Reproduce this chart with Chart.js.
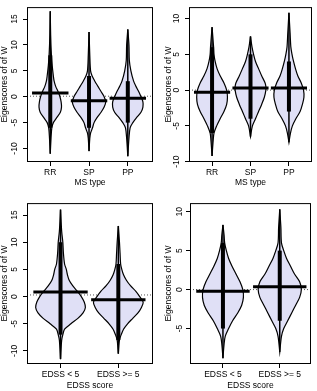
<!DOCTYPE html>
<html>
<head>
<meta charset="utf-8">
<script src="https://cdn.jsdelivr.net/npm/chart.js@4.4.0/dist/chart.umd.min.js"></script>
<style>
  body { margin: 0; background: #fff; }
  canvas { position: absolute; }
</style>
</head>
<body>
<canvas id="c1" width="158" height="188" style="left:0;top:0"></canvas>
<canvas id="c2" width="153" height="188" style="left:164px;top:0"></canvas>
<canvas id="c3" width="158" height="195" style="left:0;top:196px"></canvas>
<canvas id="c4" width="153" height="195" style="left:164px;top:196px"></canvas>
<script>
// groups
const msTypes = ['RR', 'SP', 'PP'];
const edssGroups = ['EDSS < 5', 'EDSS >= 5'];

// panel 1 : MS type (left)
const p1Levels = [
  [16.5, 12, 8, 6, 4, 3, 2, 1, 0, -1, -2, -3, -4, -5, -6, -8, -11],
  [12.5, 8, 5, 4, 3, 2, 1, 0, -1, -2, -3, -4, -5, -6, -7, -8, -10.5],
  [13, 10, 7, 5, 3, 2, 1, 0, -1, -2, -3, -4, -5, -6, -8, -11.5]
];
const p1Density = [
  [0, .01, .03, .05, .08, .10, .14, .20, .25, .28, .29, .26, .17, .08, .04, .02, 0],
  [0, .02, .04, .08, .15, .23, .31, .39, .43, .39, .31, .21, .13, .09, .04, .02, 0],
  [0, .03, .04, .08, .15, .21, .28, .34, .39, .39, .34, .23, .13, .06, .03, 0]
];
const p1Means = [0.7, -0.8, -0.3];
const p1Dense = [[-6, 8], [-6, 4], [-5, 3]];
const p1Overall = 0.1;
const p1YTicks = [-10, -5, 0, 5, 10, 15];

// panel 2 : MS type (right)
const p2Levels = [
  [8.8, 6, 5, 4, 3, 2, 1, 0, -1, -2, -3, -4, -5, -6, -7, -9.2],
  [7.5, 6, 5, 4, 3, 2, 1, 0.5, 0, -1, -2, -3, -4, -5, -6.5],
  [10.8, 8, 6, 5, 4, 3, 2, 1, 0, -1, -2, -3, -4, -5, -6, -7.3]
];
const p2Density = [
  [0, .04, .05, .08, .13, .21, .31, .38, .40, .38, .31, .21, .12, .05, .03, 0],
  [0, .04, .08, .13, .21, .29, .38, .40, .40, .36, .29, .21, .13, .05, 0],
  [0, .03, .05, .08, .12, .17, .23, .32, .38, .39, .35, .29, .18, .09, .04, 0]
];
const p2Means = [-0.3, 0.3, 0.3];
const p2Dense = [[-6, 6], [-4, 5], [-3, 4]];
const p2Overall = 0.0;
const p2YTicks = [-10, -5, 0, 5, 10];

// panel 3 : EDSS score (left)
const p3Levels = [
  [16, 12, 10, 8, 6, 5, 4, 3, 2, 1, 0, -1, -2, -3, -4, -5, -6, -7, -8, -11.5],
  [13, 10, 8, 6, 5, 4, 3, 2, 1, 0, -1, -2, -3, -4, -5, -6, -7, -8, -10.5]
];
const p3Density = [
  [0, .02, .04, .05, .07, .10, .12, .15, .21, .29, .36, .41, .43, .39, .30, .18, .07, .04, .02, 0],
  [0, .02, .03, .04, .06, .09, .14, .21, .30, .37, .43, .40, .34, .25, .16, .09, .05, .02, 0]
];
const p3Means = [0.85, -0.6];
const p3Dense = [[-7, 10], [-8, 6]];
const p3Overall = 0.3;
const p3YTicks = [-10, -5, 0, 5, 10, 15];

// panel 4 : EDSS score (right)
const p4Levels = [
  [8.3, 7, 6, 5, 4, 3, 2, 1, 0, -1, -2, -3, -4, -5, -6, -7, -8.8],
  [10.3, 8, 6, 5, 4, 3, 2, 1, 0, -1, -2, -3, -4, -5, -6, -8]
];
const p4Density = [
  [0, .02, .03, .06, .10, .16, .23, .30, .35, .36, .33, .26, .17, .10, .04, .02, 0],
  [0, .02, .03, .07, .12, .19, .26, .35, .38, .35, .28, .21, .14, .07, .03, 0]
];
const p4Means = [-0.2, 0.35];
const p4Dense = [[-5, 6], [-4, 5]];
const p4Overall = 0.0;
const p4YTicks = [-5, 0, 5, 10];

const yTitle = 'Eigenscores of of W';
const violinFill = '#e0e0f6';
const font = { family: 'Liberation Sans, Arial, sans-serif', size: 8.5 };

// frame round the plot region, like R's box()
const boxPlugin = {
  id: 'box',
  afterDraw(chart) {
    const a = chart.chartArea;
    const ctx = chart.ctx;
    ctx.save();
    ctx.strokeStyle = '#000';
    ctx.lineWidth = 1;
    ctx.strokeRect(a.left + 0.5, a.top + 0.5, a.right - a.left - 1, a.bottom - a.top - 1);
    ctx.restore();
  }
};

function violinPoints(c, ys, ws) {
  const right = ys.map((y, i) => ({ x: c + ws[i], y: y }));
  const left = ys.map((y, i) => ({ x: c - ws[i], y: y })).reverse();
  return right.concat(left);
}

function beanChart(id, cats, levels, density, means, dense, overall, yTicks, xTitle, ymin, ymax, xmin, xmax, geo) {
  const datasets = [];
  // overall mean, dotted
  datasets.push({
    data: [{ x: xmin, y: overall }, { x: xmax, y: overall }],
    showLine: true, borderColor: '#555', borderWidth: 1, borderDash: [1, 2],
    pointRadius: 0, order: 5
  });
  cats.forEach((cat, i) => {
    const c = i + 1;
    const ys = levels[i];
    // bean outline
    datasets.push({
      data: violinPoints(c, ys, density[i]),
      showLine: true, fill: 'shape', backgroundColor: violinFill,
      borderColor: '#000', borderWidth: 1.2, tension: 0.3,
      pointRadius: 0, order: 4
    });
    // bean lines: full range then the dense part
    datasets.push({
      data: [{ x: c, y: ys[ys.length - 1] }, { x: c, y: ys[0] }],
      showLine: true, borderColor: '#000', borderWidth: 1.5,
      pointRadius: 0, order: 3
    });
    datasets.push({
      data: [{ x: c, y: dense[i][0] }, { x: c, y: dense[i][1] }],
      showLine: true, borderColor: '#000', borderWidth: 4,
      pointRadius: 0, order: 2
    });
    // group mean
    datasets.push({
      data: [{ x: c - 0.47, y: means[i] }, { x: c + 0.47, y: means[i] }],
      showLine: true, borderColor: '#000', borderWidth: 3,
      pointRadius: 0, order: 1
    });
  });

  new Chart(document.getElementById(id), {
    type: 'scatter',
    data: { datasets: datasets },
    plugins: [boxPlugin],
    options: {
      responsive: false,
      animation: false,
      devicePixelRatio: 1,
      layout: { padding: geo.padding },
      plugins: { legend: { display: false }, tooltip: { enabled: false } },
      scales: {
        x: {
          type: 'linear', min: xmin, max: xmax,
          afterBuildTicks: s => { s.ticks = cats.map((c, i) => ({ value: i + 1 })); },
          afterFit: s => { s.height = geo.xHeight; },
          ticks: {
            autoSkip: false, maxRotation: 0, padding: 2, color: '#000', font: font,
            callback: v => cats[v - 1]
          },
          grid: { drawOnChartArea: false, tickLength: 4, color: '#000' },
          border: { display: false },
          title: { display: true, text: xTitle, color: '#000', font: font, padding: 0 }
        },
        y: {
          min: ymin, max: ymax,
          afterBuildTicks: s => { s.ticks = yTicks.map(v => ({ value: v })); },
          afterFit: s => { s.width = geo.yWidth; },
          ticks: {
            minRotation: 90, maxRotation: 90, crossAlign: 'center', padding: 2,
            color: '#000', font: font
          },
          grid: { drawOnChartArea: false, tickLength: 4, color: '#000' },
          border: { display: false },
          title: { display: true, text: yTitle, color: '#000', font: font, padding: 0 }
        }
      }
    }
  });
}

beanChart('c1', msTypes, p1Levels, p1Density, p1Means, p1Dense, p1Overall, p1YTicks, 'MS type',
  -12.6, 17.3, 0.4, 3.65, { padding: { top: 1, right: 5 }, xHeight: 26, yWidth: 27 });
beanChart('c2', msTypes, p2Levels, p2Density, p2Means, p2Dense, p2Overall, p2YTicks, 'MS type',
  -10.05, 11.6, 0.4, 3.6, { padding: { top: 1, right: 5 }, xHeight: 26, yWidth: 25 });
beanChart('c3', edssGroups, p3Levels, p3Density, p3Means, p3Dense, p3Overall, p3YTicks, 'EDSS score',
  -12.4, 17.2, 0.42, 2.6, { padding: { top: 7, right: 5 }, xHeight: 27, yWidth: 27 });
beanChart('c4', edssGroups, p4Levels, p4Density, p4Means, p4Dense, p4Overall, p4YTicks, 'EDSS score',
  -9.55, 11.1, 0.42, 2.55, { padding: { top: 7, right: 6 }, xHeight: 27, yWidth: 26 });
</script>
</body>
</html>
